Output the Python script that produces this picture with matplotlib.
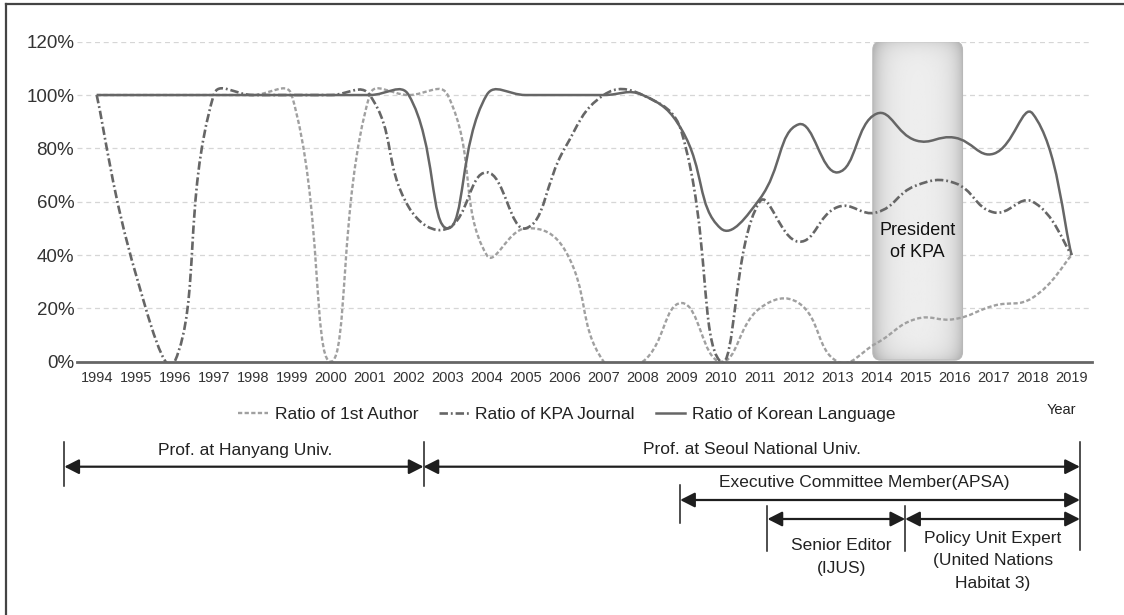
import numpy as np
import matplotlib
matplotlib.use("Agg")
import matplotlib.pyplot as plt
from matplotlib.path import Path
from matplotlib.patches import PathPatch, FancyBboxPatch
from matplotlib.lines import Line2D
from matplotlib import transforms, font_manager

# data (percent per year)
years = list(range(1994, 2020))
first_author = [100, 100, 100, 100, 100, 100, 0, 100, 100, 100, 40, 50, 42,
                0, 0, 22, 0, 20, 22, 0, 7, 16, 16, 21, 24, 40]
kpa_journal = [100, 33, 0, 100, 100, 100, 100, 100, 58, 50, 71, 50, 80,
               100, 100, 86, 0, 60, 45, 58, 56, 66, 67, 56, 60, 40]
korean_lang = [100, 100, 100, 100, 100, 100, 100, 100, 100, 50, 100, 100, 100,
               100, 100, 87, 50, 61, 89, 71, 93, 83, 84, 78, 93, 40]
y_ticks = [0, 20, 40, 60, 80, 100, 120]
series_labels = ["Ratio of 1st Author", "Ratio of KPA Journal", "Ratio of Korean Language"]

kpa_term = (2013.9, 2016.2)

# career timeline: (start year, end year, row)
spans = [
    (1993.17, 2002.38, 0),
    (2002.38, 2019.21, 0),
    (2008.96, 2019.21, 1),
    (2011.2, 2014.73, 2),
    (2014.73, 2019.21, 2),
]
span_texts = [
    ("Prof. at Hanyang Univ.", 1997.8, 450),
    ("Prof. at Seoul National Univ.", 2010.8, 450),
    ("Executive Committee Member(APSA)", 2013.68, 483),
    ("Senior Editor\n(IJUS)", 2013.1, 557),
    ("Policy Unit Expert\n(United Nations\nHabitat 3)", 2016.98, 561),
]
# vertical markers: (year, top px, bottom px)
markers = [
    (1993.17, 441.7, 486),
    (2002.38, 441.7, 486),
    (2019.21, 441.7, 550),
    (2008.96, 485, 523),
    (2011.2, 506, 551),
    (2014.73, 506, 551),
]
row_y = [466.7, 500, 519]

W, H = 1124, 615
names = {f.name for f in font_manager.fontManager.ttflist}
narrow = "Liberation Sans Narrow" if "Liberation Sans Narrow" in names else "Liberation Sans"
plt.rcParams["font.family"] = [narrow, "DejaVu Sans"]

fig = plt.figure(figsize=(W / 100, H / 100), dpi=100)
ax = fig.add_axes([77 / W, 1 - 361.7 / H, (1091.7 - 77) / W, 320 / H])
ax.set_xlim(1993.495, 2019.513)
ax.set_ylim(0, 120)


def fy(px):
    return 1 - px / H


def smooth_path(xs, ys, s=0.45):
    pts = ax.transData.transform(np.column_stack([xs, ys]))
    n = len(pts)
    d = np.hypot(*np.diff(pts, axis=0).T)
    verts = [pts[0]]
    codes = [Path.MOVETO]
    for i in range(n - 1):
        p0, p1 = pts[i], pts[i + 1]
        if i == 0:
            c1 = p0 + s * 0.5 * (p1 - p0)
        else:
            c1 = p0 + s * d[i] / (d[i - 1] + d[i]) * (p1 - pts[i - 1])
        if i + 1 == n - 1:
            c2 = p1 - s * 0.5 * (p1 - p0)
        else:
            c2 = p1 - s * d[i] / (d[i] + d[i + 1]) * (pts[i + 2] - p0)
        verts += [c1, c2, p1]
        codes += [Path.CURVE4] * 3
    verts = ax.transData.inverted().transform(np.array(verts))
    return Path(verts, codes)


styles = [
    dict(color="#a0a0a0", lw=1.7, ls=(0, (1.8, 1.0))),
    dict(color="#666666", lw=1.9, ls=(0, (3.2, 1.1, 0.7, 1.1))),
    dict(color="#666666", lw=1.8, ls="-"),
]
for vals, st, z in zip([first_author, kpa_journal, korean_lang], styles, [3, 3.2, 3.4]):
    p = PathPatch(smooth_path(years, vals), facecolor="none", edgecolor=st["color"],
                  lw=st["lw"], linestyle=st["ls"], zorder=z, capstyle="butt")
    ax.add_patch(p)

# President of KPA box
(bx0, by0) = ax.transData.transform((kpa_term[0], 0.6))
(bx1, by1) = ax.transData.transform((kpa_term[1], 120))
clip_box = FancyBboxPatch((bx0, by0), bx1 - bx0, by1 - by0,
                          boxstyle="round,pad=0,rounding_size=8",
                          transform=transforms.IdentityTransform())
hh, ww = int(by1 - by0), int(bx1 - bx0)
cols = np.arange(ww)
rows = np.arange(hh)
ex = np.minimum(cols, ww - 1 - cols)[None, :]
ey = np.minimum(rows, hh - 1 - rows)[:, None]
shade = 0.935 - 0.19 * np.exp(-ex / 10.0) - 0.09 * np.exp(-ey / 8.0)
im = ax.imshow(shade, extent=(kpa_term[0], kpa_term[1], 0.6, 120), cmap="gray",
               vmin=0, vmax=1, aspect="auto", zorder=1.5, interpolation="bilinear")
im.set_clip_path(clip_box)
outline = FancyBboxPatch((bx0, by0), bx1 - bx0, by1 - by0,
                         boxstyle="round,pad=0,rounding_size=8",
                         transform=transforms.IdentityTransform(),
                         facecolor="none", edgecolor="#b8b8b8", lw=0.8, zorder=1.6)
ax.add_artist(outline)
ax.text(sum(kpa_term) / 2, 45.0, "President\nof KPA", ha="center", va="center",
        fontsize=13, family=["Liberation Sans", "DejaVu Sans"], color="#111111",
        linespacing=1.4, zorder=4)

ax.set_xlim(1993.495, 2019.513)
ax.set_ylim(0, 120)

# axes styling
ax.set_xticks(years)
ax.set_xticklabels([str(y) for y in years], fontsize=10.5, color="#333333")
ax.set_yticks(y_ticks)
ax.set_yticklabels([f"{v}%" for v in y_ticks], fontsize=13.5, color="#333333")
ax.tick_params(axis="both", length=0)
ax.tick_params(axis="x", pad=7)
ax.tick_params(axis="y", pad=2)
ax.yaxis.grid(True, color="#d6d6d6", linestyle=(0, (4, 3)), lw=0.9)
ax.set_axisbelow(True)
for side in ["top", "right", "left"]:
    ax.spines[side].set_visible(False)
ax.spines["bottom"].set_color("#666666")
ax.spines["bottom"].set_linewidth(2.0)
ax.spines["bottom"].set_zorder(5)

# legend
handles = [Line2D([], [], color=st["color"], lw=st["lw"], linestyle=st["ls"]) for st in styles]
fig.legend(handles, series_labels, loc="center", bbox_to_anchor=(567 / W, fy(414)),
           ncol=3, frameon=False, fontsize=12.5, handlelength=1.7, handletextpad=0.4,
           columnspacing=1.2, labelcolor="#222222")
fig.text(1061 / W, fy(410), "Year", ha="center", va="center", fontsize=10.5, color="#222222")

# career timeline
blend = transforms.blended_transform_factory(ax.transData, fig.transFigure)
for x0, x1, r in spans:
    ax.annotate("", xy=(x1, fy(row_y[r])), xytext=(x0, fy(row_y[r])),
                xycoords=blend, textcoords=blend, annotation_clip=False,
                arrowprops=dict(arrowstyle="<|-|>,head_length=0.55,head_width=0.28",
                                color="#1e1e1e", lw=1.6, shrinkA=0, shrinkB=0,
                                mutation_scale=16))
for x, t, b in markers:
    ax.add_line(Line2D([x, x], [fy(t), fy(b)], transform=blend, color="#1e1e1e",
                       lw=1.1, clip_on=False))
for txt, x, y in span_texts:
    ax.text(x, fy(y), txt, transform=blend, ha="center", va="center", fontsize=12.5,
            color="#222222", linespacing=1.65)

# outer frame of the picture
fig.add_artist(Line2D([5.5 / W, 5.5 / W], [0, fy(3.5)], transform=fig.transFigure,
                      color="#444444", lw=1.6))
fig.add_artist(Line2D([5.5 / W, 1], [fy(3.5), fy(3.5)], transform=fig.transFigure,
                      color="#444444", lw=1.6))

fig.savefig("out.png", dpi=100)
